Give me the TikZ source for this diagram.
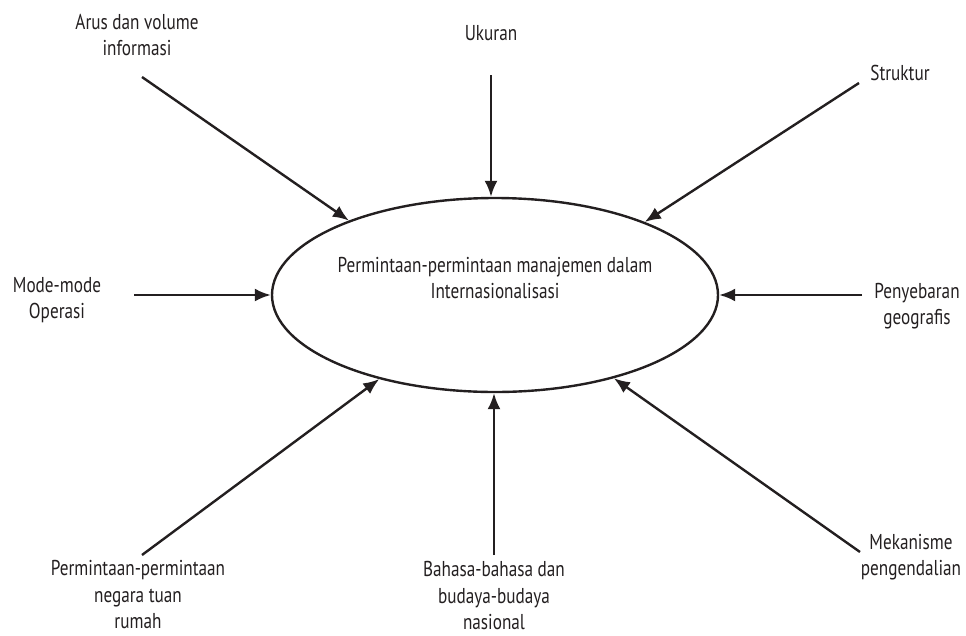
\documentclass[tikz,border=0pt]{standalone}
\usepackage{fontspec}
\setmainfont[FakeStretch=0.8]{PT Sans}
\usetikzlibrary{shapes.geometric,arrows.meta}
\definecolor{ink}{HTML}{231F20}
\tikzset{
  lbl/.style={align=center,font=\fontsize{21.5}{26.5}\selectfont,text=ink,inner sep=0pt},
  arr/.style={draw=ink,line width=2.4pt,-{Latex[length=16pt,width=13pt]}},
  oval/.style={ellipse,draw=ink,line width=2.4pt,minimum width=446pt,minimum height=194pt,inner sep=0pt}
}
\begin{document}
\begin{tikzpicture}[x=1pt,y=-1pt]
\useasboundingbox (0,0) rectangle (966,635);
\node[oval] (c) at (495,295) {};
\node[lbl] (ct) at (495,278) {Permintaan-permintaan manajemen dalam\\Internasionalisasi};
\node[lbl] (l1) at (137,35) {Arus dan volume\\informasi};
\node[lbl] (l2) at (491,33) {Ukuran};
\node[lbl] (l3) at (900,73) {Struktur};
\node[lbl] (l4) at (57,300) {Mode-mode\\Operasi};
\node[lbl] (l5) at (917,306) {Penyebaran\\geografis};
\node[lbl] (l6) at (911,557) {Mekanisme\\pengendalian};
\node[lbl] (l7) at (494,596) {Bahasa-bahasa dan\\budaya-budaya\\nasional};
\node[lbl] (l8) at (138,595) {Permintaan-permintaan\\negara tuan\\rumah};
\coordinate (s1) at (142,77);
\coordinate (s2) at (491,75);
\coordinate (s3) at (859,83);
\coordinate (s4) at (134,295);
\coordinate (s5) at (862,295);
\coordinate (s6) at (860,552);
\coordinate (s7) at (494,555);
\coordinate (s8) at (142,555);
\coordinate (e1) at (c.153);
\coordinate (e2) at (s2 |- c.north);
\coordinate (e3) at (c.26);
\coordinate (e4) at (c.west);
\coordinate (e5) at (c.east);
\coordinate (e6) at (c.-35.5);
\coordinate (e7) at (s7 |- c.south);
\coordinate (e8) at (c.-144.5);
\draw[arr] (s1) -- (e1);
\draw[arr] (s2) -- (e2);
\draw[arr] (s3) -- (e3);
\draw[arr] (s4) -- (e4);
\draw[arr] (s5) -- (e5);
\draw[arr] (s6) -- (e6);
\draw[arr] (s7) -- (e7);
\draw[arr] (s8) -- (e8);
\end{tikzpicture}
\end{document}
